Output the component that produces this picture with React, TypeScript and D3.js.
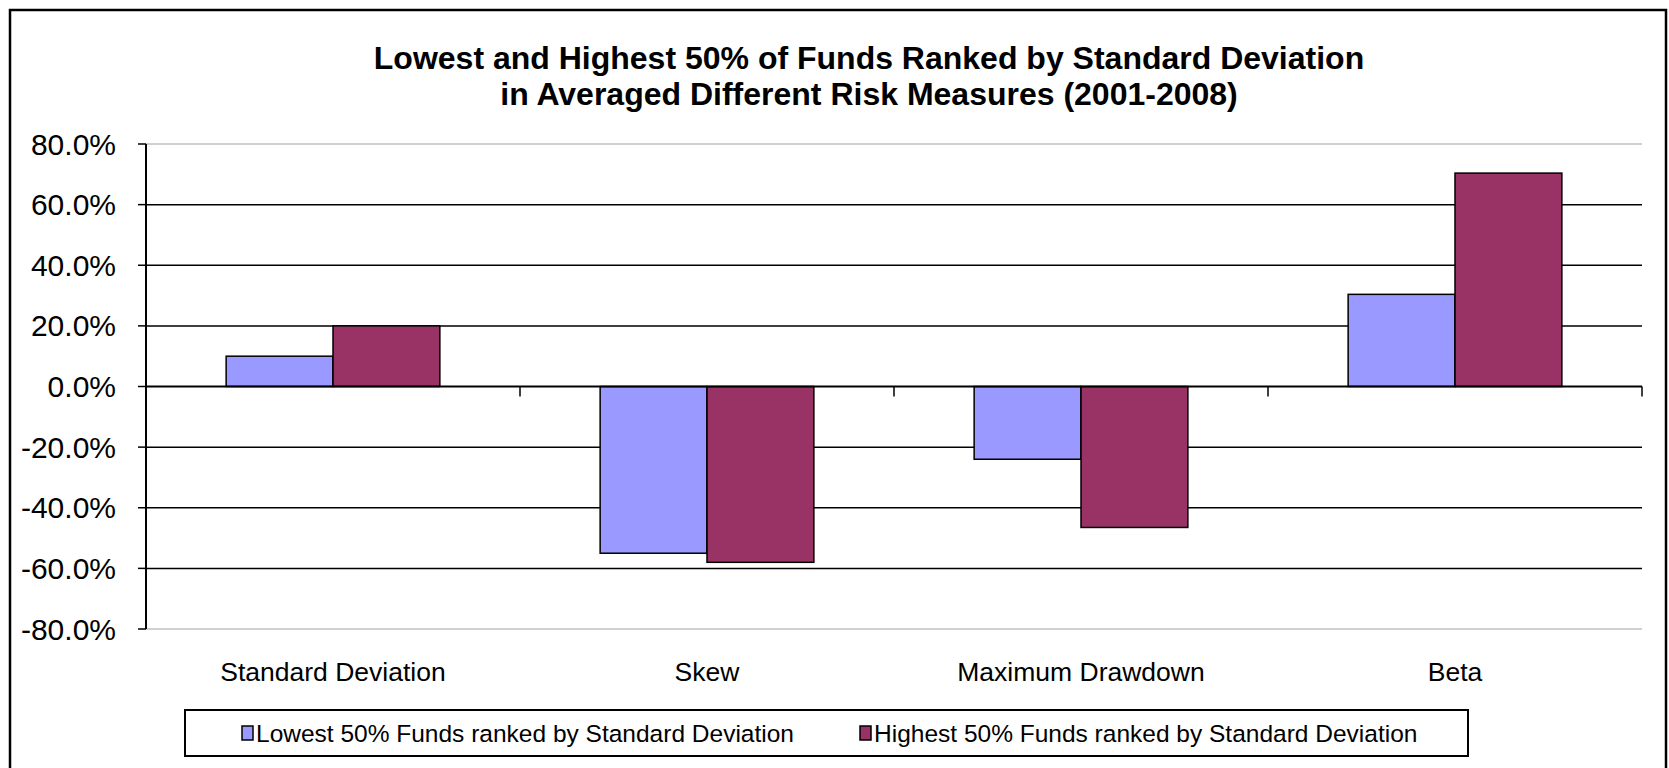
import React from "react";
import * as d3 from "d3";

const categories = ["Standard Deviation", "Skew", "Maximum Drawdown", "Beta"];
const seriesNames = [
  "Lowest 50% Funds ranked by Standard Deviation",
  "Highest 50% Funds ranked by Standard Deviation",
];
const lowestValues = [10.0, -55.0, -24.0, 30.4];
const highestValues = [20.0, -58.0, -46.5, 70.4];
const yTicks = [80, 60, 40, 20, 0, -20, -40, -60, -80];
const titleLines = [
  "Lowest and Highest 50% of Funds Ranked by Standard Deviation",
  "in Averaged Different Risk Measures (2001-2008)",
];
const colors = ["#9999FF", "#993366"];

const W = 1669;
const H = 768;
const plot = { left: 146, right: 1642, top: 144, bottom: 629 };
const FONT = "'Liberation Sans', Arial, sans-serif";

export default function App() {
  const y = d3.scaleLinear().domain([-80, 80]).range([plot.bottom, plot.top]);
  const x = d3.scaleBand().domain(categories).range([plot.left, plot.right]).paddingInner(0).paddingOuter(0);
  const step = x.bandwidth();
  const barW = step / 3.5;
  const inner = d3
    .scaleBand()
    .domain(["0", "1"])
    .range([(step - 2 * barW) / 2, (step + 2 * barW) / 2]);
  const series = [lowestValues, highestValues];
  const y0 = y(0);
  const fmt = (v: number) => d3.format(".1f")(v).replace("\u2212", "-") + "%";

  return (
    <svg
      width={W}
      height={H}
      style={{ position: "absolute", left: 0, top: 0, background: "#fff" }}
      fontFamily={FONT}
    >
      <rect x={0} y={0} width={W} height={H} fill="#fff" />
      <rect x={10} y={10} width={1656} height={770} fill="none" stroke="#000" strokeWidth={2.5} />
      {/* title */}
      {titleLines.map((t, i) => (
        <text
          key={i}
          x={869}
          y={58 + i * 36}
          textAnchor="middle"
          dominantBaseline="central"
          fontWeight="bold"
          fontSize={32}
        >
          {t}
        </text>
      ))}
      {/* plot border top/bottom */}
      <line x1={plot.left} x2={plot.right} y1={y(80)} y2={y(80)} stroke="#c0c0c0" strokeWidth={1.5} />
      <line x1={plot.left} x2={plot.right} y1={y(-80)} y2={y(-80)} stroke="#c0c0c0" strokeWidth={1.5} />
      {/* gridlines */}
      {yTicks
        .filter((v) => v !== 80 && v !== -80 && v !== 0)
        .map((v) => (
          <line key={v} x1={plot.left} x2={plot.right} y1={y(v)} y2={y(v)} stroke="#000" strokeWidth={1.5} />
        ))}
      {/* bars */}
      {categories.map((c, ci) =>
        series.map((vals, si) => {
          const v = vals[ci];
          const bx = (x(c) as number) + (inner(String(si)) as number);
          const top = Math.min(y(v), y0);
          const h = Math.abs(y(v) - y0);
          return (
            <rect
              key={c + si}
              x={bx}
              y={top}
              width={inner.bandwidth()}
              height={h}
              fill={colors[si]}
              stroke="#000"
              strokeWidth={1.5}
            />
          );
        })
      )}
      {/* x axis (zero line) */}
      <line x1={plot.left} x2={plot.right} y1={y0} y2={y0} stroke="#000" strokeWidth={2} />
      {categories.map((c, ci) => {
        const tx = (x(c) as number) + step;
        return <line key={"xt" + ci} x1={tx} x2={tx} y1={y0} y2={y0 + 10} stroke="#000" strokeWidth={1.5} />;
      })}
      {/* y axis */}
      <line x1={plot.left} x2={plot.left} y1={y(80)} y2={y(-80)} stroke="#000" strokeWidth={2} />
      {yTicks.map((v) => (
        <g key={"yt" + v}>
          <line x1={plot.left - 8} x2={plot.left} y1={y(v)} y2={y(v)} stroke="#000" strokeWidth={1.5} />
          <text x={116} y={y(v)} textAnchor="end" dominantBaseline="central" fontSize={30}>
            {fmt(v)}
          </text>
        </g>
      ))}
      {/* category labels */}
      {categories.map((c) => (
        <text
          key={"cl" + c}
          x={(x(c) as number) + step / 2}
          y={672}
          textAnchor="middle"
          dominantBaseline="central"
          fontSize={26.5}
        >
          {c}
        </text>
      ))}
      {/* legend */}
      <rect x={185} y={710} width={1283} height={46} fill="#fff" stroke="#000" strokeWidth={2} />
      {seriesNames.map((n, i) => {
        const lx = i === 0 ? 242 : 860;
        return (
          <g key={"lg" + i}>
            <rect x={lx} y={726} width={11} height={14} fill={colors[i]} stroke="#000" strokeWidth={1.5} />
            <text x={lx + 14} y={733} dominantBaseline="central" fontSize={24.5}>
              {n}
            </text>
          </g>
        );
      })}
    </svg>
  );
}
